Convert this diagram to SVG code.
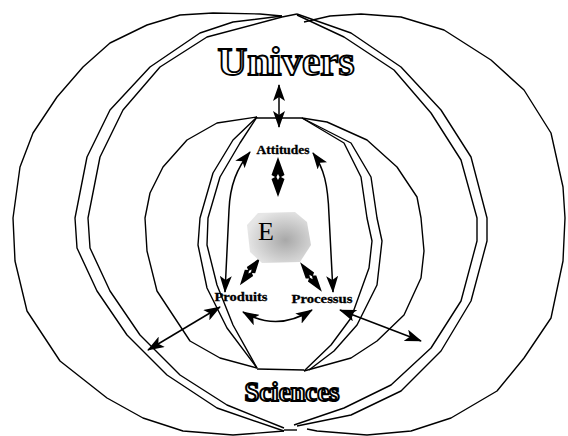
<svg xmlns="http://www.w3.org/2000/svg" width="568" height="436" viewBox="0 0 568 436">
<style>
.ln{fill:none;stroke:#000;stroke-width:1.4;stroke-linejoin:round}
.ar{fill:none;stroke:#000;stroke-width:1.5;marker-start:url(#ah);marker-end:url(#ah)}
.big{font-family:"Liberation Serif",serif;font-weight:bold;fill:#fff;stroke:#000;text-anchor:middle}
.lbl{font-family:"Liberation Serif",serif;font-weight:bold;font-size:12.5px;fill:#000;stroke:#000;stroke-width:0.3;text-anchor:middle}
</style>
<defs>
<marker id="ah" viewBox="0 0 17 12" refX="16" refY="6" markerWidth="17" markerHeight="12" markerUnits="userSpaceOnUse" orient="auto-start-reverse">
<path d="M0,0 L17,6 L0,12 L4,6 z" fill="#000"/>
</marker>
<g id="dia">
<path d="M-20,0 L-2,-6.5 L0,-3 L2,-6.5 L20,0 L2,6.5 L0,3 L-2,6.5 z" fill="#000"/>
<path d="M-3,0 L0,-1.6 L3,0 L0,1.6 z" fill="#fff"/>
</g>
<radialGradient id="eg" cx="0.6" cy="0.55" r="0.6">
<stop offset="0" stop-color="#a8a8a8"/>
<stop offset="1" stop-color="#e6e6e6"/>
</radialGradient>
</defs>
<g id="univers-shells">
<polyline class="ln" points="282,16 260,14 213,13 180,15 147,25 110,43 83,67 57,97 33,133 20,167 13,218 15,261 27,311 60,361 107,398 143,418 183,431 233,435 284,431"/>
<polyline class="ln" points="282,16 233,22 200,33 150,67 110,110 87,157 75,218 77,248 97,291 127,335 167,375 217,408 284,431"/>
<polyline class="ln" points="282,17 207,37 160,67 123,110 100,157 88,218 90,248 110,291 140,335 180,375 227,405 284,428"/>
<polyline class="ln" points="304,22 330,16 361,14 401,17 444,30 491,60 524,90 551,133 563,187 565,218 563,261 551,318 524,358 497,391 451,418 411,431 367,435 317,431 307,429"/>
<polyline class="ln" points="297,14 351,33 401,67 441,110 471,157 487,218 487,241 471,301 441,351 401,391 351,415 297,426"/>
<polyline class="ln" points="297,15 344,37 394,70 431,113 461,160 477,218 477,241 461,301 431,348 391,385 344,408 294,425"/>
<line class="ln" x1="282" y1="17" x2="297" y2="14"/>
<line class="ln" x1="284" y1="430" x2="297" y2="430"/>
</g>
<g id="sciences-shells">
<polyline class="ln" points="257,117 217,123 187,140 163,167 150,193 145,218 147,251 157,291 190,341 220,358 257,368"/>
<polyline class="ln" points="257,117 233,140 213,173 200,218 198,245 207,288 227,328 257,368"/>
<polyline class="ln" points="257,117 240,143 220,177 208,218 207,245 217,285 233,325 257,368"/>
<polyline class="ln" points="302,118 327,122 367,140 397,167 417,197 421,218 424,251 421,278 404,315 377,341 351,358 304,371"/>
<polyline class="ln" points="302,118 344,143 361,177 367,218 372,241 369,268 351,318 331,345 304,371"/>
<polyline class="ln" points="302,118 351,143 371,177 377,218 382,241 377,285 357,325 334,351 309,370"/>
<line class="ln" x1="257" y1="118" x2="302" y2="118"/>
<line class="ln" x1="257" y1="369" x2="304" y2="370"/>
</g>
<g id="connectors">
<path class="ar" d="M279,85 L279,127"/>
<path class="ar" d="M250,152 C237,168 230,185 229,210 L225,292"/>
<path class="ar" d="M313,153 C324,168 328,185 329,215 L333,292"/>
<path class="ar" d="M243,312 Q277,332 312,310"/>
<path class="ar" d="M220,307 L148,350"/>
<path class="ar" d="M340,310 L421,341"/>
<use href="#dia" transform="translate(278,177) rotate(90)"/>
<use href="#dia" transform="translate(250,271.5) rotate(126.5) scale(0.85,0.8)"/>
<use href="#dia" transform="translate(311,277) rotate(53.7) scale(0.92,0.8)"/>
</g>
<g id="node-univers"><text class="big" x="286" y="75" font-size="40" stroke-width="1.8" textLength="137" lengthAdjust="spacingAndGlyphs">Univers</text></g>
<g id="node-sciences"><text class="big" x="292" y="401" font-size="27" stroke-width="2" textLength="95" lengthAdjust="spacingAndGlyphs">Sciences</text></g>
<g id="node-attitudes"><text class="lbl" x="283" y="154" textLength="53" lengthAdjust="spacingAndGlyphs">Attitudes</text></g>
<g id="node-produits"><text class="lbl" x="241" y="301" textLength="53" lengthAdjust="spacingAndGlyphs">Produits</text></g>
<g id="node-processus"><text class="lbl" x="322" y="303" textLength="61" lengthAdjust="spacingAndGlyphs">Processus</text></g>
<g id="node-e">
<path d="M258,213 L295,212 L307,222 L311,245 L300,262 L262,263 L250,252 L247,225 z" fill="url(#eg)"/>
<text x="266" y="240" font-family="Liberation Serif,serif" font-size="26" text-anchor="middle" fill="#000">E</text>
</g>
</svg>
